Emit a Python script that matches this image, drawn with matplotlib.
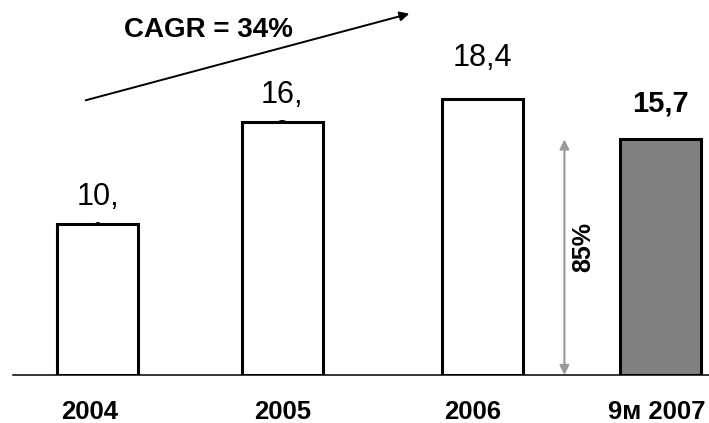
import matplotlib.pyplot as plt
from matplotlib.patches import FancyArrowPatch

plt.rcParams['font.family'] = ['Liberation Sans', 'DejaVu Sans']

# revenue by period
periods = ["2004", "2005", "2006", "9м 2007"]
values = [10.1, 16.9, 18.4, 15.7]
# labels as they come out of the slide (first two wrap onto a second line)
value_labels = ["10,\n1", "16,\n9", "18,4", "15,7"]
cagr_text = "CAGR = 34%"

xpos = [0, 0.984, 2.051, 3.0]
label_pos = [-0.04, 0.99, 2.0, 2.985]
fill = ["white", "white", "white", "#808080"]

fig = plt.figure(figsize=(7.09, 4.23), dpi=100)
ax = fig.add_axes([13 / 709, 48 / 423, 696 / 709, 375 / 423])

ax.bar(xpos, values, width=0.432, color=fill, edgecolor="black",
       linewidth=2.2, zorder=2)

for i, (x, v, lab) in enumerate(zip(xpos, values, value_labels)):
    if "\n" in lab:
        # wrapped label: second line ends up behind the bar
        ax.annotate(lab, xy=(x, v), xytext=(0, 30), textcoords="offset points",
                    ha="center", va="top", fontsize=22, linespacing=1.38,
                    zorder=1)
    elif i == 3:
        ax.annotate(lab, xy=(x, v), xytext=(0, 16), textcoords="offset points",
                    ha="center", va="bottom", fontsize=21, fontweight="bold")
    else:
        ax.annotate(lab, xy=(x, v), xytext=(0, 19), textcoords="offset points",
                    ha="center", va="bottom", fontsize=22)

# share of 9 months against full 2006
share = round(100 * values[3] / values[2])
ax_arrow_x = xpos[3] - 0.51
ax.annotate("", xy=(ax_arrow_x, values[3]), xytext=(ax_arrow_x, 0),
            arrowprops=dict(arrowstyle="<|-|>", color="#999999", lw=1.5,
                            mutation_scale=14, shrinkA=0, shrinkB=0))
ax.text(ax_arrow_x + 0.1, values[3] / 2 + 0.7, f"{share}%", rotation=90,
        ha="center", va="center", fontsize=18, fontweight="bold")

ax.set_xlim(-0.4507, 3.261)
ax.set_ylim(0, 25.0)
ax.set_xticks(label_pos, periods)
ax.tick_params(axis="x", length=0, pad=18, labelsize=18.5)
for t in ax.get_xticklabels():
    t.set_fontweight("bold")
ax.set_yticks([])
for s in ["top", "right", "left"]:
    ax.spines[s].set_visible(False)
ax.spines["bottom"].set_linewidth(1.1)

# growth arrow
fig.patches.append(FancyArrowPatch((83 / 709, 1 - 101 / 423), (412 / 709, 1 - 13 / 423),
                                   transform=fig.transFigure, arrowstyle="-|>",
                                   mutation_scale=14, lw=1.4, color="black"))
fig.text(208 / 709, 1 - 30 / 423, cagr_text, ha="center", va="center",
         fontsize=20, fontweight="bold")

fig.savefig("out.png", dpi=100)
